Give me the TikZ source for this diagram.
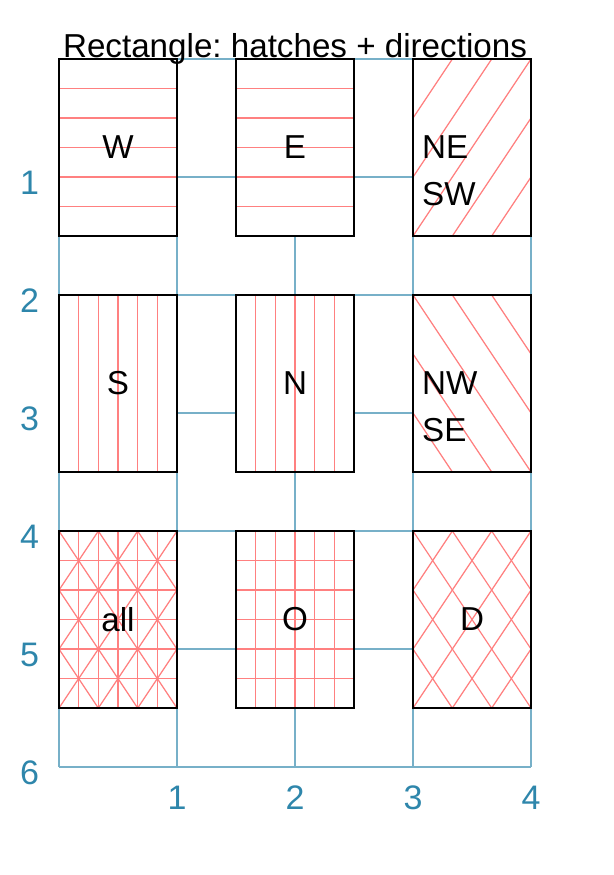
\documentclass[tikz,border=0pt]{standalone}
\usepackage{fontspec}
\setmainfont{Liberation Sans}
\usepackage{xcolor}
\definecolor{axisblue}{RGB}{46,134,171}
\usetikzlibrary{calc}
\tikzset{
  rectframe/.style={draw=black, line width=0.55pt},
  hatch/.style={draw=red!50, line width=0.3pt},
  gridline/.style={draw=axisblue!65, line width=0.3pt},
  lbl/.style={font=\fontsize{8}{11.3}\selectfont},
  axislbl/.style={text=axisblue, font=\fontsize{8.2}{10}\selectfont},
}
\frenchspacing
% hatches, in box coordinates (box 1 x 1.5)
\newcommand{\hatchhor}{\foreach \k in {1,...,5} \draw[hatch] (0,\k/4) -- (1,\k/4);}
\newcommand{\hatchver}{\foreach \k in {1,...,5} \draw[hatch] (\k/6,0) -- (\k/6,1.5);}
\newcommand{\hatchne}{\begin{scope}
    \clip (0,0) rectangle (1,1.5);
    \foreach \k in {-2,...,2} \draw[hatch] (\k/3,1.5) -- ++(1,-1.5);
  \end{scope}}
\newcommand{\hatchnw}{\begin{scope}
    \clip (0,0) rectangle (1,1.5);
    \foreach \k in {-2,...,2} \draw[hatch] (\k/3,0) -- ++(1,1.5);
  \end{scope}}
% #1 top left corner, #2 hatches
\newcommand{\hatchrect}[2]{\begin{scope}[shift={#1}]
    \fill[white] (0,0) rectangle (1,1.5);
    #2
    \draw[rectframe] (0,0) rectangle (1,1.5);
  \end{scope}}

\begin{document}
\begin{tikzpicture}[x=1cm, y=-1cm]
  \useasboundingbox (-0.5,-0.5) rectangle (4.695,6.915);

  % grid
  \foreach \x in {0,...,4} \draw[gridline] (\x,0) -- (\x,6);
  \foreach \y in {0,...,6} \draw[gridline] (0,\y) -- (4,\y);

  % boxes
  \hatchrect{(0,0)}{\hatchhor}
  \hatchrect{(1.5,0)}{\hatchhor}
  \hatchrect{(3,0)}{\hatchne}
  \hatchrect{(0,2)}{\hatchver}
  \hatchrect{(1.5,2)}{\hatchver}
  \hatchrect{(3,2)}{\hatchnw}
  \hatchrect{(0,4)}{\hatchhor\hatchver\hatchne\hatchnw}
  \hatchrect{(1.5,4)}{\hatchhor\hatchver}
  \hatchrect{(3,4)}{\hatchne\hatchnw}

  % labels
  \node[lbl] (w) at (0.5,0.75) {W};
  \node[lbl] (e) at (2,0.75) {E};
  \node[lbl, anchor=west, align=left, inner sep=2pt] (nesw) at (3,0.95) {NE\\SW};
  \node[lbl] (s) at (0.5,2.75) {S};
  \node[lbl] (n) at (2,2.75) {N};
  \node[lbl, anchor=west, align=left, inner sep=2pt] (nwse) at (3,2.95) {NW\\SE};
  \node[lbl] (all) at (0.5,4.75) {all};
  \node[lbl] (o) at (2,4.75) {O};
  \node[lbl] (d) at (3.5,4.75) {D};

  \node[lbl, anchor=base] (title) at (2,-0.01) {Rectangle: hatches + directions};

  % axes
  \foreach \y in {1,...,6} \node[axislbl] (ly\y) at (-0.25,\y+0.05) {\y};
  \foreach \x in {1,...,4} \node[axislbl] (lx\x) at (\x,6.26) {\x};
\end{tikzpicture}
\end{document}
